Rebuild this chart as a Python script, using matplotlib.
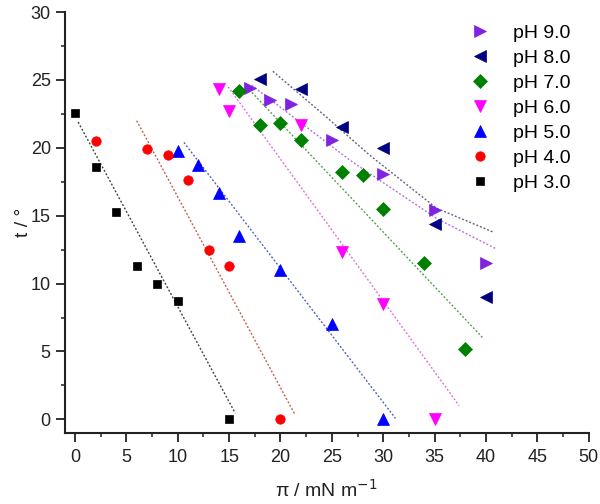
import matplotlib
matplotlib.use("Agg")
import matplotlib.pyplot as plt
from matplotlib.ticker import MultipleLocator

plt.rcParams['font.family'] = ['Liberation Sans', 'DejaVu Sans']

# ---- data ----
labels = ["pH 9.0", "pH 8.0", "pH 7.0", "pH 6.0", "pH 5.0", "pH 4.0", "pH 3.0"]

pi_ph9 = [17, 19, 21, 25, 30, 35, 40]
t_ph9 = [24.4, 23.5, 23.2, 20.6, 18.1, 15.4, 11.5]

pi_ph8 = [18, 22, 26, 30, 35, 40]
t_ph8 = [25.1, 24.3, 21.5, 20.0, 14.4, 9.0]

pi_ph7 = [16, 18, 20, 22, 26, 28, 30, 34, 38]
t_ph7 = [24.2, 21.7, 21.8, 20.6, 18.2, 18.0, 15.5, 11.5, 5.2]

pi_ph6 = [14, 15, 22, 26, 30, 35]
t_ph6 = [24.3, 22.7, 21.7, 12.3, 8.5, 0.0]

pi_ph5 = [10, 12, 14, 16, 20, 25, 30]
t_ph5 = [19.8, 18.7, 16.7, 13.5, 11.0, 7.0, 0.0]

pi_ph4 = [2, 7, 9, 11, 13, 15, 20]
t_ph4 = [20.5, 19.9, 19.5, 17.6, 12.5, 11.3, 0.0]

pi_ph3 = [0, 2, 4, 6, 8, 10, 15]
t_ph3 = [22.6, 18.6, 15.3, 11.3, 10.0, 8.7, 0.0]

# fitted curves
fit_pi_ph9 = [17.2, 26.75, 28.7, 35.2, 40.9]
fit_t_ph9 = [24.6, 19.1, 18.1, 14.8, 12.6]
fit_pi_ph8 = [19.26, 24.5, 28.7, 35.2, 40.76]
fit_t_ph8 = [25.64, 22.25, 19.45, 15.55, 13.78]
fit_pi_ph7 = [16.7, 39.7]
fit_t_ph7 = [24.5, 6.0]
fit_pi_ph6 = [14.9, 37.4]
fit_t_ph6 = [24.5, 1.0]
fit_pi_ph5 = [10.6, 31.2]
fit_t_ph5 = [20.4, 0.07]
fit_pi_ph4 = [6.0, 21.4]
fit_t_ph4 = [22.0, 0.37]
fit_pi_ph3 = [0.3, 15.6]
fit_t_ph3 = [21.9, 0.45]

series = [
    (pi_ph9, t_ph9, fit_pi_ph9, fit_t_ph9, '>', '#8022e0', '#b070e0', 8.3),
    (pi_ph8, t_ph8, fit_pi_ph8, fit_t_ph8, '<', '#000080', '#606080', 8.3),
    (pi_ph7, t_ph7, fit_pi_ph7, fit_t_ph7, 'D', '#008000', '#50a050', 7.6),
    (pi_ph6, t_ph6, fit_pi_ph6, fit_t_ph6, 'v', '#ff00ff', '#e070e0', 8.0),
    (pi_ph5, t_ph5, fit_pi_ph5, fit_t_ph5, '^', '#0000ff', '#5060c0', 8.0),
    (pi_ph4, t_ph4, fit_pi_ph4, fit_t_ph4, 'o', '#ff0000', '#c06050', 6.8),
    (pi_ph3, t_ph3, fit_pi_ph3, fit_t_ph3, 's', '#000000', '#404040', 6.2),
]

fig = plt.figure(figsize=(6.0, 5.04), dpi=100)
ax = fig.add_axes([0.108, 0.141, 0.873, 0.835])

handles = []
for (x, y, fx, fy, m, c, lc, ms), lab in zip(series, labels):
    ax.plot(fx, fy, linestyle=(0, (1.4, 1.4)), color=lc, linewidth=1.0, zorder=2)
    h, = ax.plot(x, y, linestyle='none', marker=m, color=c, markersize=ms,
                 markeredgewidth=0.5, markeredgecolor=c, label=lab, zorder=3)
    handles.append(h)

ax.set_xlim(-1, 50)
ax.set_ylim(-1, 30)
ax.xaxis.set_major_locator(MultipleLocator(5))
ax.xaxis.set_minor_locator(MultipleLocator(2.5))
ax.yaxis.set_major_locator(MultipleLocator(5))
ax.yaxis.set_minor_locator(MultipleLocator(2.5))
ax.spines['top'].set_visible(False)
ax.spines['right'].set_visible(False)
for s in ('left', 'bottom'):
    ax.spines[s].set_linewidth(1.5)
    ax.spines[s].set_color('#222222')
ax.tick_params(which='major', direction='out', length=6.5, width=1.3,
               labelsize=13, colors='#222222')
ax.tick_params(which='minor', direction='out', length=3, width=1.1, colors='#222222')
ax.tick_params(axis='x', which='major', pad=5)
ax.tick_params(axis='y', which='major', pad=3.6)

ax.set_xlabel(r'π / mN m$^{-1}$', fontsize=14, color='#222222', labelpad=9)
ax.set_ylabel('t / °', fontsize=14, color='#222222', labelpad=-1)

leg = ax.legend(handles=handles, loc='upper right', bbox_to_anchor=(1.0, 1.012),
                frameon=False, fontsize=14, markerscale=1.0, labelspacing=0.38,
                handlelength=1.0, handletextpad=1.2)

fig.savefig('out.png', dpi=100)
